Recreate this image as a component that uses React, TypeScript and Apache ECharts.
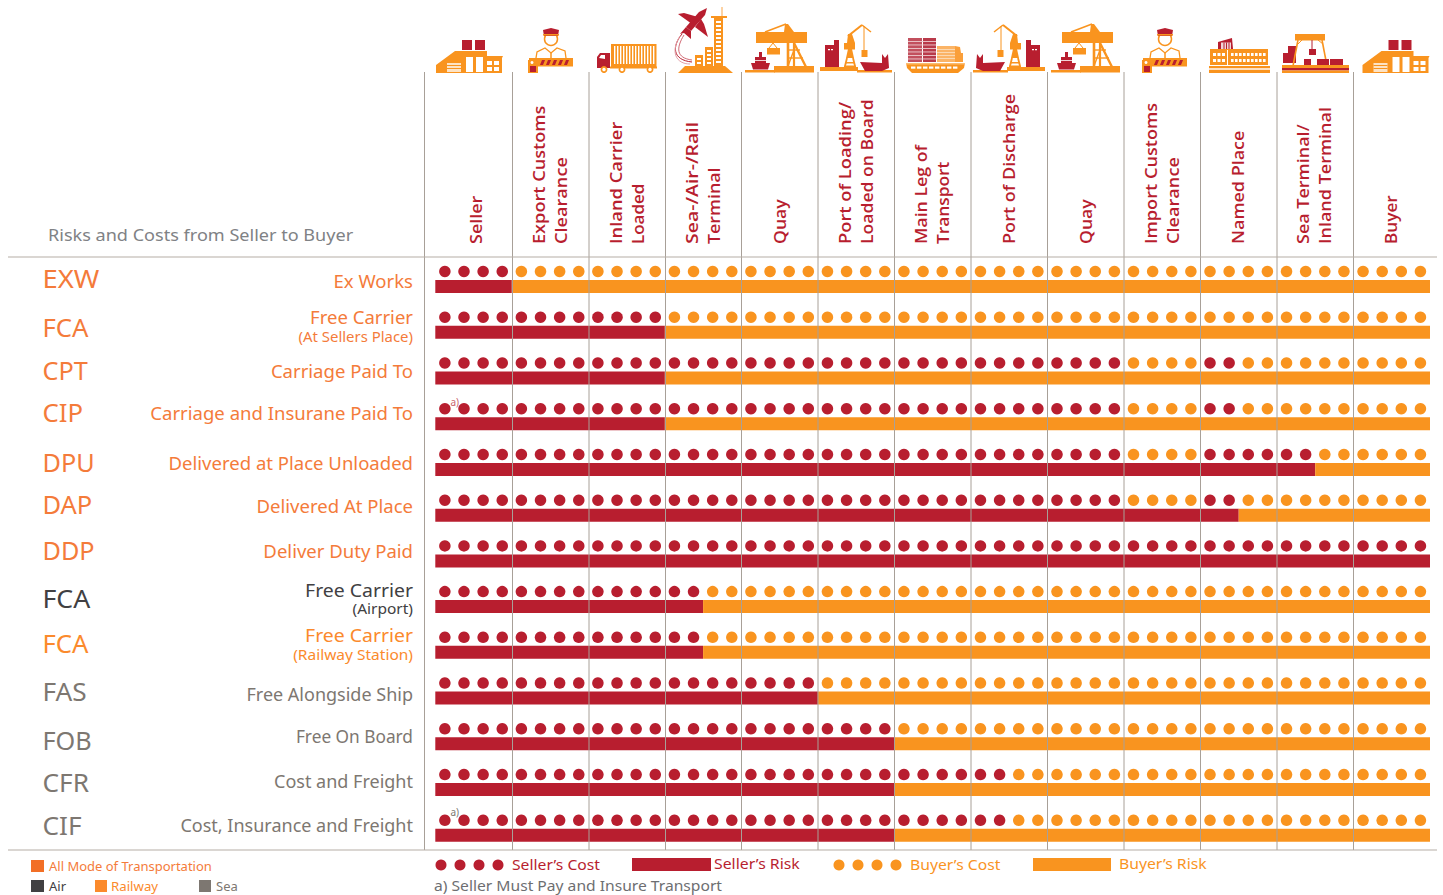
import React, { useEffect, useRef } from "react";
import * as echarts from "echarts";

const rowCodes = ["EXW", "FCA", "CPT", "CIP", "DPU", "DAP", "DDP", "FCA", "FCA", "FAS", "FOB", "CFR", "CIF"];
const rowNames = [
  "Ex Works", "Free Carrier", "Carriage Paid To", "Carriage and Insurane Paid To",
  "Delivered at Place Unloaded", "Delivered At Place", "Deliver Duty Paid", "Free Carrier",
  "Free Carrier", "Free Alongside Ship", "Free On Board", "Cost and Freight", "Cost, Insurance and Freight",
];
const rowNotes = ["", "(At Sellers Place)", "", "", "", "", "", "(Airport)", "(Railway Station)", "", "", "", ""];
const columnLabels = [
  ["Seller"], ["Export Customs", "Clearance"], ["Inland Carrier", "Loaded"], ["Sea-/Air-/Rail", "Terminal"],
  ["Quay"], ["Port of Loading/", "Loaded on Board"], ["Main Leg of", "Transport"], ["Port of Discharge"],
  ["Quay"], ["Import Customs", "Clearance"], ["Named Place"], ["Sea Terminal/", "Inland Terminal"], ["Buyer"],
];
// Dot slots paid by the seller, per row, as [from, to) ranges of the 52 slots (4 per column)
const sellerCostRanges = [
  [[0, 4]], [[0, 12]], [[0, 36], [40, 42]], [[0, 36], [40, 42]], [[0, 36], [40, 46]], [[0, 36], [40, 42]],
  [[0, 52]], [[0, 14]], [[0, 14]], [[0, 20]], [[0, 24]], [[0, 30]], [[0, 30]],
];
const sellerRiskColumns = [1, 3, 3, 3, 11.5, 10.5, 13, 3.5, 3.5, 5, 6, 6, 6];
const buyerRiskColumns = [12, 10, 10, 10, 1.5, 2.5, 0, 9.5, 9.5, 8, 7, 7, 7];
const columnCount = 13;
const slotCount = 52;

const RED = "#b81e2f";
const ORANGE = "#f9941f";
const CODE_ORANGE = "#f47b3a";
const RAIL_ORANGE = "#fb8a2c";
const DARK = "#414042";
const GRAY = "#7d7771";
const LINE = "#a8a098";
const FONT = '"Noto Sans", sans-serif';
const HEAD = '"Open Sans", sans-serif';
const W = "#ffffff";

const codeColors = [CODE_ORANGE, CODE_ORANGE, CODE_ORANGE, CODE_ORANGE, CODE_ORANGE, CODE_ORANGE, CODE_ORANGE, DARK, RAIL_ORANGE, GRAY, GRAY, GRAY, GRAY];
const codeY = [278.5, 327, 370, 412, 462, 504, 550, 598.5, 643, 691, 740, 782, 825];
const codeScale = [1.12, 1.05, 1.03, 1.05, 1.03, 1.04, 1.03, 1.09, 1.05, 1.07, 1.03, 1.07, 1.07];
const nameY = [280.5, 317, 371, 413, 462.5, 506, 551, 590, 635, 694, 736, 781, 825];
const nameScale = [1.03, 1.03, 1.03, 1.03, 1.03, 1.03, 1.03, 1.08, 1.08, 1, 0.96, 1, 1];
const noteY = [0, 336.5, 0, 0, 0, 0, 0, 608, 654, 0, 0, 0, 0];
const noteScale = [1, 1.03, 1, 1, 1, 1, 1, 1.07, 1.07, 1, 1, 1, 1];
const columnLineX = [424.5, 512.5, 589, 665.5, 741.5, 818, 894.5, 971, 1047.5, 1124, 1200.5, 1277, 1353.5];
const labelX = [[475.5], [538.5, 560.5], [615.5, 637.5], [691.5, 713.5], [779.5], [844.5, 866.5], [920.5, 942.5], [1008.5], [1085.5], [1150.5, 1172.5], [1237.5], [1302.5, 1324.5], [1390.5]];
const labelScale = [[1.09], [1.1, 1.1], [1.11, 1.03], [1.18, 1.08], [1.07], [1.11, 1.066], [1.076, 1.05], [1.095], [1.07], [1.1, 1.1], [1.087], [1.09, 1.09], [1.04]];

const r = (x: number, y: number, w: number, h: number, fill: string) => ({ type: "rect", silent: true, shape: { x, y, width: w, height: h }, style: { fill } });
const p = (points: number[][], fill: string) => ({ type: "polygon", silent: true, shape: { points }, style: { fill } });
const c = (cx: number, cy: number, rad: number, fill: string, stroke?: string, lw = 1.5) => ({ type: "circle", silent: true, shape: { cx, cy, r: rad }, style: stroke ? { fill, stroke, lineWidth: lw } : { fill } });
const l = (x1: number, y1: number, x2: number, y2: number, stroke: string, lineWidth = 1) => ({ type: "line", silent: true, shape: { x1, y1, x2, y2 }, style: { stroke, lineWidth } });
const pl = (points: number[][], stroke: string, lineWidth = 1.3) => ({ type: "polyline", silent: true, shape: { points }, style: { stroke, lineWidth, fill: "none" } });
const bz = (x1: number, y1: number, cpx1: number, cpy1: number, cpx2: number, cpy2: number, x2: number, y2: number, stroke: string, lineWidth = 1) => ({ type: "bezierCurve", silent: true, shape: { x1, y1, cpx1, cpy1, cpx2, cpy2, x2, y2 }, style: { stroke, lineWidth, fill: "none" } });
const grp = (x: number, children: any[], scaleX = 1) => ({ type: "group", x, scaleX, silent: true, children });
const t = (x: number, y: number, text: string, font: string, fill: string, align = "left", scaleX = 1) => ({ type: "text", x, y, scaleX, silent: true, style: { text, font, fill, align, verticalAlign: "middle" } });

const warehouse = () => {
  const out: any[] = [
    p([[436, 73], [436, 65], [455, 51], [487, 51], [487, 56], [503, 56], [502, 58], [502, 73]], ORANGE),
    r(462, 40, 10, 10, RED), r(475, 40, 10, 10, RED),
    r(447, 63, 14, 9, "#fde3c4"), r(447, 65, 14, 1, ORANGE), r(447, 68, 14, 1, ORANGE),
    r(466, 57, 7, 15, W), r(476, 57, 7, 15, W),
    r(487, 61, 5, 4, W), r(494, 61, 5, 4, W), r(487, 67, 5, 4, W), r(494, 67, 5, 4, W),
  ];
  return out;
};

const officer = () => {
  const out: any[] = [
    c(551, 39, 6.5, W, ORANGE),
    p([[543, 30], [551, 28], [559, 30], [558, 36], [544, 36]], RED),
    r(543, 34, 16, 1.6, ORANGE),
    pl([[536, 58], [537, 52], [545, 48], [551, 53], [557, 48], [565, 51], [566, 58]], ORANGE),
    l(551, 53, 551, 58, ORANGE, 1.5),
    r(529, 58, 44, 8.5, ORANGE),
    r(528, 60, 10, 13, ORANGE),
    r(530, 66, 6, 6, RED),
    c(532, 62.5, 1.5, W),
  ];
  for (const sx of [540, 546, 552, 558, 564]) {
    out.push(p([[sx + 2, 60], [sx + 5, 60], [sx + 3, 65], [sx, 65]], RED));
  }
  return out;
};

const truck = () => {
  const out: any[] = [r(611, 44, 45.5, 23, ORANGE)];
  for (const wx of [614, 617, 620, 623, 626, 629, 632, 635, 638, 641, 644, 647, 650, 653]) {
    out.push(r(wx, 46, 1.4, 18, W));
  }
  out.push(
    p([[597, 57], [600, 53], [610, 53], [610, 68], [597, 68]], RED),
    p([[599, 58], [601, 55], [605, 55], [605, 59]], W),
    r(610, 66.5, 47, 2, ORANGE),
    c(604, 69.5, 2.6, W, ORANGE, 1.7), c(622, 69.5, 2.6, W, ORANGE, 1.7), c(650, 69.5, 2.6, W, ORANGE, 1.7),
  );
  return out;
};

const airTerminal = () => {
  const out: any[] = [
    p([[707, 8], [705, 15], [691, 31], [686, 27], [699, 12]], RED),
    p([[678, 14], [684, 13], [698, 17], [692, 24]], RED),
    p([[701, 19], [704, 24], [708, 37], [695, 27]], RED),
    p([[686, 27], [691, 31], [691, 39], [684, 33], [680, 34]], RED),
    bz(682, 34, 672, 46, 672, 60, 692, 62, RED, 1),
    bz(684, 35, 676, 48, 676, 58, 692, 60, "#d16a75", 1),
    bz(680, 36, 670, 52, 676, 64, 690, 64, "#e3a1a8", 1),
    l(722, 7, 722, 17, "#fbb466", 1.2),
    r(711, 16, 16, 2, ORANGE),
    r(714, 18, 9, 48, ORANGE),
    r(705, 47, 8, 19, ORANGE),
    r(695, 55, 8, 11, ORANGE),
    p([[678, 73], [685, 66], [725, 66], [733, 73]], ORANGE),
  ];
  for (let y = 21; y < 63; y += 4) out.push(r(716, y, 5, 2, W));
  for (let y = 50; y < 64; y += 4) out.push(r(707, y, 4, 2, W));
  for (let y = 58; y < 64; y += 4) out.push(r(697, y, 4, 2, W));
  return out;
};

const quayCrane = () => [
  r(745, 70, 30, 2.5, ORANGE),
  r(774, 66, 40, 6.5, ORANGE),
  r(756, 32, 51, 11, ORANGE),
  l(786, 24, 765, 32, ORANGE, 1.6),
  p([[784, 32], [785, 24], [788, 24], [794, 32]], ORANGE),
  l(788, 43, 788, 67, ORANGE, 2.6),
  l(794, 43, 794, 67, ORANGE, 2.2),
  l(794, 43, 806, 67, ORANGE, 2.4),
  l(788, 50, 800, 50, ORANGE, 1.4),
  l(788, 58, 803, 58, ORANGE, 1.4),
  l(788, 66, 794, 50, ORANGE, 1.4),
  l(773, 43, 769, 48, ORANGE, 1),
  l(773, 43, 777, 48, ORANGE, 1),
  r(767, 48, 13, 6.5, ORANGE),
  p([[751, 63], [770, 63], [768, 69.5], [753, 69.5]], RED),
  r(755, 57, 11, 6, RED),
  r(759, 52, 3, 5, RED),
  r(755, 60, 11, 0.8, W),
];

const portCrane = () => [
  r(820, 67, 38, 4, ORANGE),
  r(857, 70, 35, 2.5, ORANGE),
  p([[825, 45], [834, 45], [834, 40], [839, 40], [839, 67], [825, 67]], RED),
  r(828, 49, 2, 1.2, W), r(831, 49, 2, 1.2, W),
  l(848, 36, 862, 25, ORANGE, 2),
  l(852, 33, 862, 25, ORANGE, 1),
  l(862, 25, 871, 32, ORANGE, 1.5),
  l(864, 26, 864, 50, ORANGE, 1),
  r(861.5, 50, 6, 7, ORANGE),
  p([[847, 43], [848, 34], [852, 34], [855, 43]], ORANGE),
  r(844, 43, 11, 6.5, ORANGE),
  p([[848, 49], [852, 49], [854, 58], [846, 58]], ORANGE),
  l(847, 58, 845, 66, ORANGE, 1.8),
  l(853, 58, 855, 66, ORANGE, 1.8),
  r(845, 62, 10, 1.5, ORANGE),
  r(844, 65.5, 12, 2, ORANGE),
  p([[860, 62], [882, 63], [882, 54], [885, 58], [888, 54], [889, 68], [882, 71], [865, 71]], RED),
];

const containerShip = () => {
  const out: any[] = [
    r(908, 38, 14, 24, "#c2505e"), r(923, 38, 13, 24, "#b93a4a"),
    r(937, 46, 18, 16, "#fbb466"),
    p([[955, 46], [960, 47], [961, 53], [963, 53], [963, 62], [955, 62]], "#fa9f3a"),
  ];
  for (let y = 41; y < 61; y += 3.5) {
    out.push(r(908, y, 28, 0.9, "#eecbd0"));
  }
  for (let y = 49; y < 61; y += 3) out.push(r(937, y, 18, 0.8, "#fde3c4"));
  out.push(p([[906, 63], [965, 63], [964, 68], [958, 73], [912, 73], [907, 68]], ORANGE), r(906, 63.5, 59, 0.8, "#fde3c4"));
  for (let x = 911; x < 956; x += 6) out.push(r(x, 66.5, 4.4, 2.2, W));
  return out;
};

const namedPlace = () => {
  const out: any[] = [
    r(1210, 49, 58, 16, ORANGE),
    r(1227, 50, 1, 15, W),
    p([[1218, 42], [1232, 38], [1233, 49], [1218, 49]], RED),
    r(1221, 42.5, 10, 6.5, "#efd6d9"),
    r(1223.5, 42.5, 1, 6.5, RED), r(1226, 42.5, 1, 6.5, RED), r(1228.5, 42.5, 1, 6.5, RED),
    r(1209, 66, 61, 2, ORANGE), r(1209, 68.4, 61, 1.2, "#fbc48a"), r(1209, 70, 61, 3, ORANGE),
  ];
  for (const y of [53, 59]) {
    for (const x of [1213, 1217.5, 1222]) out.push(r(x, y, 3, 3, W));
    for (const x of [1231, 1235, 1239, 1243, 1247, 1251, 1255, 1259, 1263]) out.push(r(x, y, 2.6, 3, W));
  }
  return out;
};

const seaTerminal = () => [
  p([[1283, 53], [1288, 53], [1288, 46], [1296, 46], [1296, 63], [1283, 63]], RED),
  r(1295, 34, 30, 6.5, ORANGE),
  l(1298, 40, 1293, 66, ORANGE, 1.6),
  l(1322, 40, 1327, 66, ORANGE, 1.6),
  l(1302, 40, 1298, 44, ORANGE, 1),
  l(1318, 40, 1323, 44, ORANGE, 1),
  l(1312, 40, 1312, 49, RED, 1),
  r(1309, 49, 7, 6, RED),
  r(1304, 59, 7, 6, RED),
  r(1317, 59, 12, 6, RED),
  r(1330, 59, 13, 6, RED),
  r(1282, 65, 67, 3, ORANGE),
  r(1282, 68, 67, 2.5, RED),
  r(1282, 70.5, 67, 2.5, ORANGE),
];

const sellerDots = (): number[][] => {
  const out: number[][] = [];
  sellerCostRanges.forEach((ranges, row) => ranges.forEach(([from, to]) => {
    for (let s = from; s < to; s++) out.push([(s + 0.5) / 4, row]);
  }));
  return out;
};
const buyerDots = (): number[][] => {
  const out: number[][] = [];
  sellerCostRanges.forEach((ranges, row) => {
    for (let s = 0; s < slotCount; s++) {
      if (!ranges.some(([from, to]) => s >= from && s < to)) out.push([(s + 0.5) / 4, row]);
    }
  });
  return out;
};

function buildGraphics() {
  const els: any[] = [];
  columnLineX.forEach((x) => els.push(l(x, 72, x, 850, LINE, 1)));
  els.push(l(8, 257, 1437, 257, "#b5aea6", 1.2), l(8, 850, 1437, 850, "#b5aea6", 1.2));

  els.push(t(48, 234.5, "Risks and Costs from Seller to Buyer", `400 16px ${FONT}`, "#808285", "left", 1.13));

  columnLabels.forEach((lines, i) => lines.forEach((text, j) => {
    els.push({
      type: "text", x: labelX[i][j], y: 244, rotation: Math.PI / 2, scaleX: labelScale[i][j], silent: true,
      style: { text, font: `600 16.5px ${HEAD}`, fill: RED, align: "left", verticalAlign: "middle" },
    });
  }));

  rowCodes.forEach((code, i) => {
    els.push(t(42.5, codeY[i], code, `400 24.5px ${FONT}`, codeColors[i], "left", codeScale[i]));
    els.push(t(413, nameY[i], rowNames[i], `400 18px ${FONT}`, codeColors[i], "right", nameScale[i]));
    if (rowNotes[i]) els.push(t(413, noteY[i], rowNotes[i], `400 14.5px ${FONT}`, codeColors[i], "right", noteScale[i]));
  });

  els.push(t(450.5, 401.5, "a)", `400 10px ${FONT}`, "#c9626d"), t(450.5, 811.5, "a)", `400 10px ${FONT}`, GRAY));

  // Legends
  els.push(
    r(31, 860, 13, 12, "#f26f26"), t(49, 866.5, "All Mode of Transportation", `400 12.5px ${FONT}`, CODE_ORANGE, "left", 1.04),
    r(31, 880, 13, 12, DARK), t(49, 886.5, "Air", `400 12.5px ${FONT}`, DARK, "left", 1.04),
    r(95, 880, 12, 12, RAIL_ORANGE), t(111, 886.5, "Railway", `400 12.5px ${FONT}`, RAIL_ORANGE, "left", 1.06),
    r(199, 880, 12, 12, GRAY), t(216, 886.5, "Sea", `400 12.5px ${FONT}`, GRAY, "left", 1.04),
  );
  [441, 460, 479, 498].forEach((x) => els.push(c(x, 865, 5.5, RED)));
  els.push(t(512, 864, "Seller\u2019s Cost", `400 15px ${FONT}`, RED, "left", 1.047));
  els.push(r(632, 858, 79, 13, RED), t(714, 864, "Seller\u2019s Risk", `400 15px ${FONT}`, RED, "left", 1.055));
  [839, 858, 877, 896].forEach((x) => els.push(c(x, 865, 5.5, ORANGE)));
  els.push(t(910, 864, "Buyer\u2019s Cost", `400 15px ${FONT}`, ORANGE, "left", 1.047));
  els.push(r(1033, 858, 78, 13, ORANGE), t(1119, 864, "Buyer\u2019s Risk", `400 15px ${FONT}`, ORANGE, "left", 1.05));
  els.push(t(434, 885, "a) Seller Must Pay and Insure Transport", `400 15px ${FONT}`, "#6d6e71", "left", 1.043));

  // Icons
  els.push(grp(0, warehouse()), grp(926.5, warehouse()));
  els.push(grp(0, officer()), grp(614, officer()));
  els.push(grp(0, truck()));
  els.push(grp(0, airTerminal()));
  els.push(grp(0, quayCrane()), grp(306, quayCrane()));
  els.push(grp(0, portCrane()), grp(1865, portCrane(), -1));
  els.push(grp(0, containerShip()));
  els.push(grp(0, namedPlace()));
  els.push(grp(0, seaTerminal()));

  return els.map((e) => ({ ...e, z: 20 }));
}

export default function App() {
  const ref = useRef<HTMLDivElement>(null);
  useEffect(() => {
    const chart = echarts.init(ref.current!, undefined, { renderer: "svg" });
    const rowBand = 45.73;
    const left = 435.3;
    const width = 994.7;
    const rows = rowCodes.map((_, i) => String(i));
    const xAxis = (gridIndex: number) => ({ type: "value", gridIndex, min: 0, max: columnCount, show: false });
    const yAxis = (gridIndex: number) => ({ type: "category", gridIndex, data: rows, inverse: true, show: false });
    chart.setOption({
      animation: false,
      backgroundColor: "#ffffff",
      grid: [
        { left, width, top: 271.5 - rowBand / 2, height: rowBand * 13 },
        { left, width, top: 286.5 - rowBand / 2, height: rowBand * 13 },
      ],
      xAxis: [xAxis(0), xAxis(1)],
      yAxis: [yAxis(0), yAxis(1)],
      series: [
        { name: "Seller\u2019s Cost", type: "scatter", xAxisIndex: 0, yAxisIndex: 0, data: sellerDots(), symbolSize: 11.5, itemStyle: { color: RED, opacity: 1 }, silent: true, z: 5 },
        { name: "Buyer\u2019s Cost", type: "scatter", xAxisIndex: 0, yAxisIndex: 0, data: buyerDots(), symbolSize: 11.5, itemStyle: { color: ORANGE, opacity: 1 }, silent: true, z: 5 },
        { name: "Seller\u2019s Risk", type: "bar", xAxisIndex: 1, yAxisIndex: 1, stack: "risk", data: sellerRiskColumns, barWidth: 13, itemStyle: { color: RED }, silent: true, z: 2 },
        { name: "Buyer\u2019s Risk", type: "bar", xAxisIndex: 1, yAxisIndex: 1, stack: "risk", data: buyerRiskColumns, barWidth: 13, itemStyle: { color: ORANGE }, silent: true, z: 2 },
      ],
      graphic: { elements: buildGraphics() },
    });
    return () => chart.dispose();
  }, []);
  return <div ref={ref} style={{ position: "absolute", left: 0, top: 0, width: 1443, height: 895 }} />;
}
